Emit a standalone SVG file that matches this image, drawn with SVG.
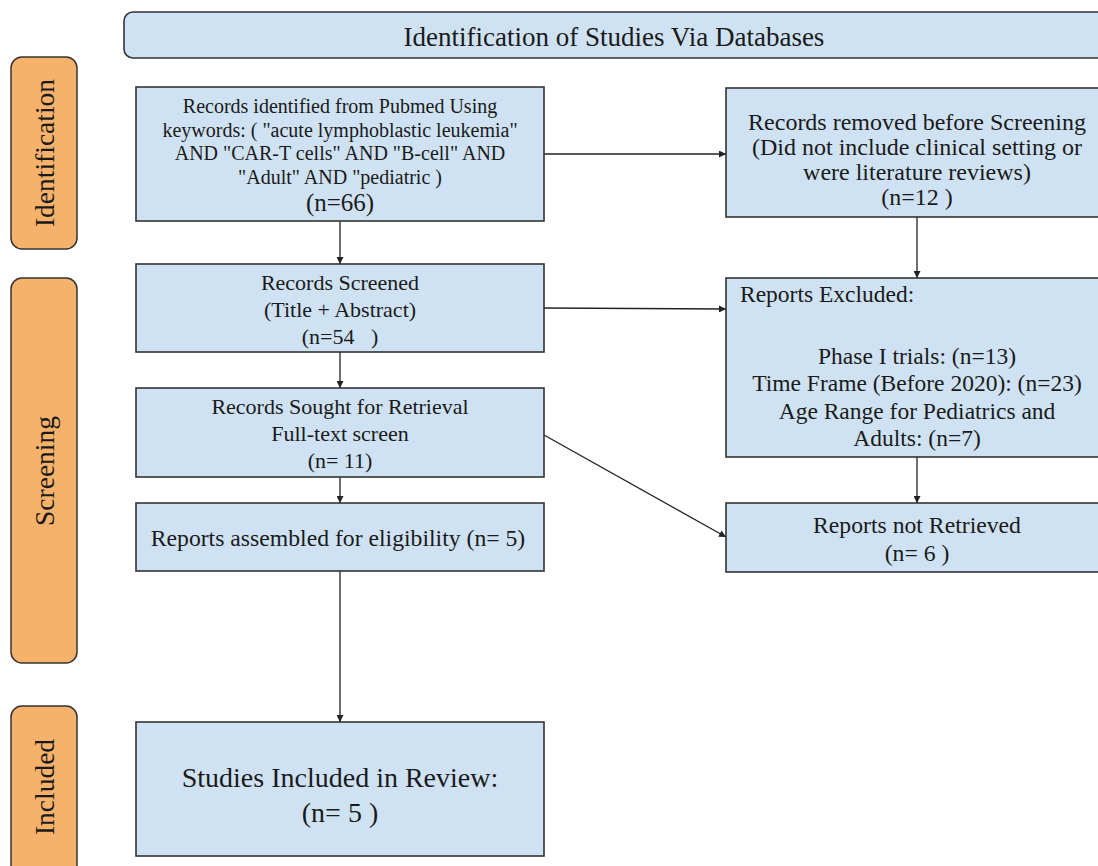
<svg xmlns="http://www.w3.org/2000/svg" width="1098" height="866" viewBox="0 0 1098 866">
<defs>
<marker id="ah" viewBox="0 0 10 10" refX="10" refY="5" markerWidth="7" markerHeight="7" markerUnits="userSpaceOnUse" orient="auto">
<path d="M0,0 L10,5 L0,10 z" fill="#222"/>
</marker>
<style>
.box{fill:#cfe2f3;stroke:#333;stroke-width:1.6}
.side{fill:#f6b26b;stroke:#333;stroke-width:1.5}
.t{font-family:"Liberation Serif","Times New Roman",serif;fill:#1a1a1a;text-anchor:middle;dominant-baseline:central}
.c{stroke:#222;stroke-width:1.3;fill:none;marker-end:url(#ah)}
</style>
</defs>
<rect width="1098" height="866" fill="#fff"/>

<g id="header">
<rect class="box" x="124" y="12" width="990" height="46" rx="9"/>
<text class="t" x="614" y="37" font-size="27">Identification of Studies Via Databases</text>
</g>

<g id="side-identification">
<rect class="side" x="11" y="57" width="66" height="192" rx="11"/>
<text class="t" font-size="27.5" transform="translate(44,153) rotate(-90)">Identification</text>
</g>
<g id="side-screening">
<rect class="side" x="11" y="278" width="66" height="385" rx="11"/>
<text class="t" font-size="27.5" transform="translate(44,471) rotate(-90)">Screening</text>
</g>
<g id="side-included">
<rect class="side" x="11" y="706" width="66" height="170" rx="11"/>
<text class="t" font-size="27.5" transform="translate(44,787) rotate(-90)">Included</text>
</g>

<g id="connectors">
<line class="c" x1="544" y1="154" x2="726" y2="154"/>
<line class="c" x1="340" y1="221" x2="340" y2="264"/>
<line class="c" x1="917" y1="217" x2="917" y2="278"/>
<line class="c" x1="544" y1="308" x2="726" y2="309"/>
<line class="c" x1="340" y1="352" x2="340" y2="388"/>
<line class="c" x1="917" y1="457" x2="917" y2="503"/>
<line class="c" x1="544" y1="435" x2="726" y2="537"/>
<line class="c" x1="340" y1="477" x2="340" y2="503"/>
<line class="c" x1="340" y1="571" x2="340" y2="722"/>
</g>

<g id="records-identified">
<rect class="box" x="136" y="87" width="408" height="134"/>
<text class="t" font-size="20" x="340" y="106">Records identified from Pubmed Using</text>
<text class="t" font-size="20" x="340" y="130">keywords: ( "acute lymphoblastic leukemia"</text>
<text class="t" font-size="20" x="340" y="153">AND "CAR-T cells" AND "B-cell" AND</text>
<text class="t" font-size="20" x="340" y="177">"Adult" AND "pediatric )</text>
<text class="t" font-size="25" x="340" y="202">(n=66)</text>
</g>

<g id="records-removed">
<rect class="box" x="726" y="88" width="390" height="129"/>
<text class="t" font-size="24" x="917" y="122">Records removed before Screening</text>
<text class="t" font-size="24" x="917" y="147">(Did not include clinical setting or</text>
<text class="t" font-size="24" x="917" y="172">were literature reviews)</text>
<text class="t" font-size="24" x="917" y="197">(n=12 )</text>
</g>

<g id="records-screened">
<rect class="box" x="136" y="264" width="408" height="88"/>
<text class="t" font-size="22" x="340" y="282">Records Screened</text>
<text class="t" font-size="22" x="340" y="309">(Title + Abstract)</text>
<text class="t" font-size="22" x="340" y="336" xml:space="preserve">(n=54   )</text>
</g>

<g id="reports-excluded">
<rect class="box" x="726" y="278" width="390" height="179"/>
<text class="t" font-size="23.5" x="740" y="294" style="text-anchor:start">Reports Excluded:</text>
<text class="t" font-size="23.5" x="917" y="356">Phase I trials: (n=13)</text>
<text class="t" font-size="23.5" x="917" y="383">Time Frame (Before 2020): (n=23)</text>
<text class="t" font-size="23.5" x="917" y="411">Age Range for Pediatrics and</text>
<text class="t" font-size="23.5" x="917" y="438">Adults: (n=7)</text>
</g>

<g id="records-sought">
<rect class="box" x="136" y="388" width="408" height="89"/>
<text class="t" font-size="22" x="340" y="406">Records Sought for Retrieval</text>
<text class="t" font-size="22" x="340" y="433">Full-text screen</text>
<text class="t" font-size="22" x="340" y="460">(n= 11)</text>
</g>

<g id="reports-assembled">
<rect class="box" x="136" y="503" width="408" height="68"/>
<text class="t" font-size="23.7" x="338" y="538">Reports assembled for eligibility (n= 5)</text>
</g>

<g id="reports-not-retrieved">
<rect class="box" x="726" y="503" width="390" height="69"/>
<text class="t" font-size="23.7" x="917" y="525">Reports not Retrieved</text>
<text class="t" font-size="23.7" x="917" y="553">(n= 6 )</text>
</g>

<g id="studies-included">
<rect class="box" x="136" y="722" width="408" height="134"/>
<text class="t" font-size="28" x="340" y="777">Studies Included in Review:</text>
<text class="t" font-size="28" x="340" y="812">(n= 5 )</text>
</g>
</svg>
